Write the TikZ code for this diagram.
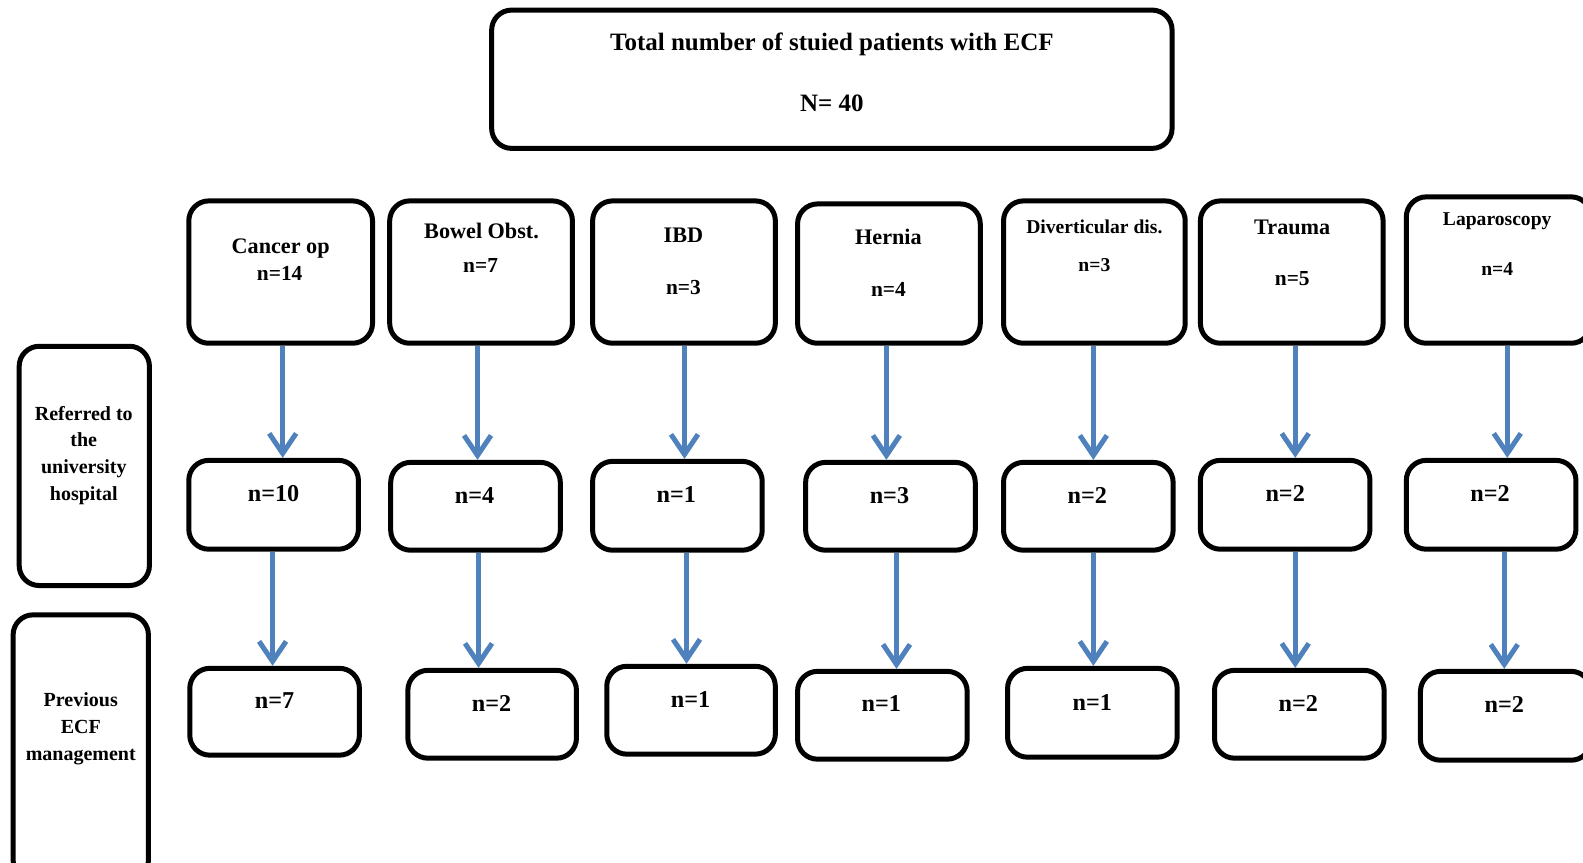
\documentclass[tikz,border=0pt]{standalone}
\usepackage{fontspec}
\setmainfont{Liberation Serif}
\usetikzlibrary{arrows.meta}
\definecolor{arrblue}{HTML}{4F81BD}
\tikzset{
  box/.style={draw=black, line width=2.5pt, rounded corners=10pt, inner sep=0pt},
  lbl/.style={inner sep=0pt, align=center, yshift=-1pt},
  ftitle/.style={font=\fontsize{12.5pt}{15pt}\selectfont\bfseries},
  fcat/.style={font=\fontsize{11.1pt}{13pt}\selectfont\bfseries},
  fsmall/.style={font=\fontsize{9.8pt}{12pt}\selectfont\bfseries},
  fnum/.style={font=\fontsize{12.1pt}{14pt}\selectfont\bfseries},
  ftop/.style={font=\fontsize{10.7pt}{13pt}\selectfont\bfseries},
  fside/.style={font=\fontsize{10pt}{13.4pt}\selectfont\bfseries},
  arr/.style={draw=arrblue, line width=2.5pt, -{Straight Barb[length=10pt,width=13.5pt,line width=2.5pt]}}
}
\newcommand\bx[5]{\node[box, minimum width={(#4-#2)*0.5048pt}, minimum height={(#5-#3)*0.5048pt}] (#1) at ({(#2+#4)/2},{(#3+#5)/2}) {};}
\begin{document}
\begin{tikzpicture}[x=0.5048pt, y=-0.5048pt]
\useasboundingbox (0,0) rectangle (1568,854);
% top box
\bx{top}{487}{10}{1161}{147}
\node[lbl, ftitle] (top-t1) at (824,42) {Total number of stuied patients with ECF};
\node[lbl, ftitle] (top-t2) at (824,100) {N= 40};
% side boxes
\bx{ref}{19}{343}{148}{580}
\node[lbl, fside] (ref-t) at (83,449) {Referred to\\the\\university\\hospital};
\bx{prev}{13}{609}{147}{872}
\node[lbl, fside] (prev-t) at (80,720) {Previous\\ECF\\management};
% top row
\bx{c1a}{187}{199}{369}{340}
\node[lbl, fcat] (c1a-t) at (278,244) {Cancer op};
\node[lbl, ftop] (c1a-n) at (277,269) {n=14};
\bx{c2a}{386}{199}{567}{340}
\node[lbl, fcat] (c2a-t) at (477,227) {Bowel Obst.};
\node[lbl, ftop] (c2a-n) at (476,261) {n=7};
\bx{c3a}{587}{199}{768}{340}
\node[lbl, fcat] (c3a-t) at (677,231) {IBD};
\node[lbl, ftop] (c3a-n) at (677,283) {n=3};
\bx{c4a}{790}{202}{971}{340}
\node[lbl, fcat] (c4a-t) at (880,233) {Hernia};
\node[lbl, ftop] (c4a-n) at (880,285) {n=4};
\bx{c5a}{994}{199}{1174}{340}
\node[lbl, fsmall] (c5a-t) at (1084,223) {Diverticular dis.};
\node[lbl, fsmall] (c5a-n) at (1084,261) {n=3};
\bx{c6a}{1189}{199}{1370}{340}
\node[lbl, fcat] (c6a-t) at (1280,223) {Trauma};
\node[lbl, ftop] (c6a-n) at (1280,274) {n=5};
\bx{c7a}{1393}{195}{1576}{340}
\node[lbl, fsmall] (c7a-t) at (1483,217) {Laparoscopy};
\node[lbl, fsmall] (c7a-n) at (1483,265) {n=4};
% middle row
\bx{c1b}{187}{456}{355}{544}
\node[lbl, fnum] (c1b-t) at (271,487) {n=10};
\bx{c2b}{387}{458}{555}{545}
\node[lbl, fnum] (c2b-t) at (470,489) {n=4};
\bx{c3b}{587}{457}{755}{545}
\node[lbl, fnum] (c3b-t) at (670,488) {n=1};
\bx{c4b}{798}{458}{966}{545}
\node[lbl, fnum] (c4b-t) at (881,489) {n=3};
\bx{c5b}{994}{458}{1162}{545}
\node[lbl, fnum] (c5b-t) at (1077,489) {n=2};
\bx{c6b}{1189}{456}{1357}{544}
\node[lbl, fnum] (c6b-t) at (1273,487) {n=2};
\bx{c7b}{1393}{456}{1561}{544}
\node[lbl, fnum] (c7b-t) at (1476,487) {n=2};
% bottom row
\bx{c1c}{188}{662}{356}{748}
\node[lbl, fnum] (c1c-t) at (272,692) {n=7};
\bx{c2c}{404}{664}{571}{751}
\node[lbl, fnum] (c2c-t) at (487,695) {n=2};
\bx{c3c}{601}{660}{768}{747}
\node[lbl, fnum] (c3c-t) at (684,691) {n=1};
\bx{c4c}{790}{665}{958}{752}
\node[lbl, fnum] (c4c-t) at (873,695) {n=1};
\bx{c5c}{998}{662}{1166}{750}
\node[lbl, fnum] (c5c-t) at (1082,694) {n=1};
\bx{c6c}{1203}{664}{1371}{751}
\node[lbl, fnum] (c6c-t) at (1286,695) {n=2};
\bx{c7c}{1407}{665}{1576}{753}
\node[lbl, fnum] (c7c-t) at (1490,696) {n=2};
% arrow columns
\coordinate (x1a) at (280,0);  \coordinate (x1b) at (270,0);
\coordinate (x2a) at (473,0);  \coordinate (x2b) at (474,0);
\coordinate (x3a) at (678,0);  \coordinate (x3b) at (680,0);
\coordinate (x4a) at (878,0);  \coordinate (x4b) at (888,0);
\coordinate (x5a) at (1083,0); \coordinate (x5b) at (1083,0);
\coordinate (x6a) at (1283,0); \coordinate (x6b) at (1283,0);
\coordinate (x7a) at (1493,0); \coordinate (x7b) at (1490,0);
\foreach \i in {1,...,7}{
  \draw[arr] (c\i a.south -| x\i a) -- (c\i b.north -| x\i a);
  \draw[arr] (c\i b.south -| x\i b) -- (c\i c.north -| x\i b);
}
\end{tikzpicture}
\end{document}
